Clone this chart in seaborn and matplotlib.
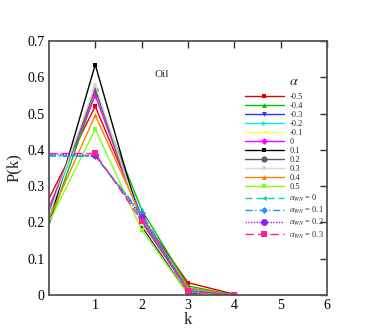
import matplotlib
matplotlib.use("Agg")
import matplotlib.pyplot as plt
import seaborn as sns
import pandas as pd

sns.set_theme(style="white")
plt.rcParams['font.family'] = ['Liberation Serif', 'DejaVu Serif']
plt.rcParams['mathtext.fontset'] = 'stix'

k = [0, 1, 2, 3, 4]
labels = ['-0.5', '-0.4', '-0.3', '-0.2', '-0.1', '0', '0.1', '0.2', '0.3', '0.4', '0.5',
          r'$\alpha_{WN}$ = 0', r'$\alpha_{WN}$ = 0.1', r'$\alpha_{WN}$ = 0.2', r'$\alpha_{WN}$ = 0.3']
p_m05 = [0.265, 0.520, 0.215, 0.034, 0.002]
p_m04 = [0.193, 0.555, 0.235, 0.025, 0.000]
p_m03 = [0.225, 0.560, 0.215, 0.018, 0.000]
p_m02 = [0.215, 0.570, 0.205, 0.015, 0.000]
p_m01 = [0.235, 0.560, 0.200, 0.010, 0.000]
p_0 = [0.240, 0.550, 0.205, 0.010, 0.000]
p_01 = [0.195, 0.635, 0.190, 0.005, 0.000]
p_02 = [0.230, 0.565, 0.200, 0.010, 0.000]
p_03 = [0.220, 0.580, 0.195, 0.008, 0.000]
p_04 = [0.210, 0.495, 0.215, 0.020, 0.000]
p_05 = [0.200, 0.457, 0.180, 0.002, 0.000]
p_wn0 = [0.385, 0.383, 0.220, 0.012, 0.000]
p_wn01 = [0.383, 0.382, 0.225, 0.012, 0.000]
p_wn02 = [0.388, 0.385, 0.215, 0.010, 0.000]
p_wn03 = [0.390, 0.390, 0.205, 0.010, 0.000]
values = [p_m05, p_m04, p_m03, p_m02, p_m01, p_0, p_01, p_02, p_03, p_04, p_05,
          p_wn0, p_wn01, p_wn02, p_wn03]

colors = ['#e00000', '#00c000', '#3030ff', '#00f0f0', '#ffff40', '#ff00ff', '#000000',
          '#606060', '#d8d8d8', '#ff8000', '#80ff20', '#00e080', '#1e90ff', '#9020f0', '#ff2090']
markers = ['s', '^', 'v', '>', '<', 'D', 's', 'o', 's', '^', 's', '<', 'D', 'o', 's']
msizes = [3.5, 3.5, 3.5, 3.5, 3.5, 3.5, 3.5, 4.5, 3.5, 3.5, 3.5, 3.5, 3.5, 5, 4]
styles = ['-'] * 11 + [(0, (5, 3)), (0, (5, 2, 1, 2)), (0, (1, 1)), (0, (6, 3))]

fig = plt.figure(figsize=(3.73, 3.32), dpi=100)
ax = fig.add_axes([0.131, 0.1114, 0.746, 0.7651])

for lab, v, c, m, ms, ls in zip(labels, values, colors, markers, msizes, styles):
    df = pd.DataFrame({'k': k, 'P': v})
    sns.lineplot(data=df, x='k', y='P', ax=ax, color=c, marker=m, markersize=ms,
                 linestyle=ls, linewidth=1.0, markeredgewidth=0, label=lab,
                 markevery=slice(1, None))

ax.set_xlim(0, 6)
ax.set_ylim(0, 0.7)
ax.set_xticks([1, 2, 3, 4, 5, 6])
ax.set_yticks([0, 0.1, 0.2, 0.3, 0.4, 0.5, 0.6, 0.7])
ax.set_yticklabels(['0', '0.1', '0.2', '0.3', '0.4', '0.5', '0.6', '0.7'])
ax.tick_params(direction='in', length=5, width=1, top=True, right=True,
               labelsize=10, colors='#333333', pad=3)
for lbl in ax.get_xticklabels() + ax.get_yticklabels():
    lbl.set_color('black')
for s in ax.spines.values():
    s.set_color('#555555')
    s.set_linewidth(1.3)
ax.set_xlabel('k', fontsize=12, labelpad=0)
ax.set_ylabel('P(k)', fontsize=12, labelpad=4)
ax.text(0.405, 0.87, 'Oil', transform=ax.transAxes, fontsize=8, ha='center', va='center')
ax.text(0.882, 0.839, r'$\alpha$', transform=ax.transAxes, fontsize=10, ha='center', va='center')

leg = ax.legend(loc='upper left', bbox_to_anchor=(0.706, 0.797), frameon=False,
                fontsize=6, handlelength=4.6, handletextpad=0.7, labelspacing=0.13,
                borderaxespad=0, borderpad=0)
for line in leg.get_lines():
    line.set_linewidth(1.0)

fig.savefig('out.png', dpi=100)
